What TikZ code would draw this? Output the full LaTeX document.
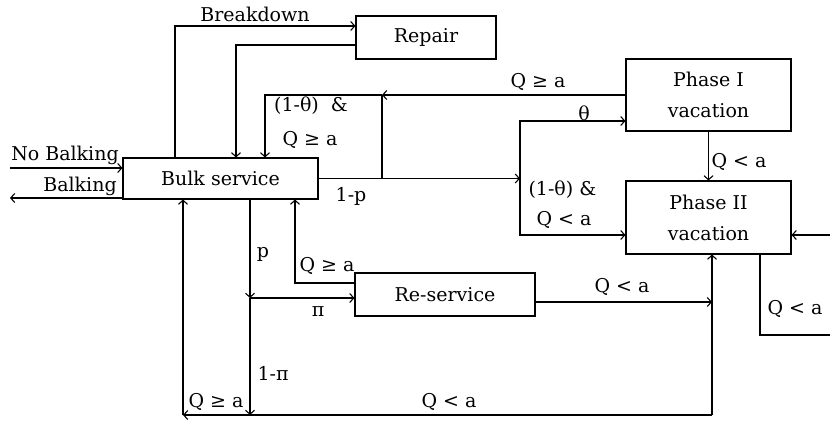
\documentclass[tikz,border=0pt]{standalone}
\usepackage{fontspec}
\setmainfont{DejaVu Serif}
\usetikzlibrary{arrows.meta}
\tikzset{
  blk/.style={draw,inner sep=0pt,align=center},
  lbl/.style={inner sep=0pt}
}
\begin{document}
\begin{tikzpicture}[x=1pt,y=-1pt,line width=1.1pt,>={Straight Barb[length=4pt,width=9pt]},
 font=\fontsize{19}{31}\selectfont]
\useasboundingbox (0,0) rectangle (830,425);
% boxes
\node[blk,minimum width=140pt,minimum height=43pt] (repair) at (426,37.5) {Repair};
\node[blk,minimum width=195pt,minimum height=41pt] (bulk) at (220.5,178.5) {Bulk service};
\node[blk,minimum width=165pt,minimum height=72pt] (ph1) at (708.5,95) {Phase I\\vacation};
\node[blk,minimum width=165pt,minimum height=73pt] (ph2) at (708.5,217.5) {Phase II\\vacation};
\node[blk,minimum width=180pt,minimum height=43pt] (reserv) at (445,294.5) {Re-service};
% junctions
\coordinate (jA) at (382,95);
\coordinate (jB) at (382,178.5);
\coordinate (jC) at (520,178.5);
\coordinate (jD) at (250,298);
\coordinate (jE) at (250,415);
\coordinate (jG) at (712,415);
\coordinate (jH) at (183,415);
\coordinate (rin) at (830,235);
\coordinate (rout) at (830,335);
\coordinate (nbin) at (10,168);
\coordinate (bout) at (10,198);
% connectors
\draw[->] (nbin) -- (bulk.west |- nbin);
\draw[->] (bulk.west |- bout) -- (bout);
\draw[->] (bulk.north -| 175,0) |- (repair.west |- 0,26);
\draw[->] (repair.west |- 0,45) -| (bulk.north -| 236,0);
\draw[->] (ph1.west) -- (jA);
\draw[->] (jA) -| (bulk.north -| 265,0);
\draw (jA) -- (jB);
\draw[->] (bulk.east) -- (jC);
\draw[->] (jC) |- (ph1.west |- 0,121);
\draw[->] (jC) |- (ph2.west |- 0,235);
\draw[->] (ph1.south) -- (ph2.north);
\draw[->] (rin) -- (ph2.east |- rin);
\draw (ph2.south -| 760,0) |- (rout);
\draw[->] (bulk.south -| jD) -- (jD);
\draw[->] (jD) -- (reserv.west |- jD);
\draw[->] (jD) -- (jE);
\draw[->] (reserv.west |- 0,283) -| (bulk.south -| 295,0);
\draw[->] (reserv.east |- 0,302) -- (jG |- 0,302);
\draw[->] (jG) -- (ph2.south -| jG);
\draw[->] (jG) -- (jH);
\draw[->] (jH) -- (bulk.south -| jH);
% labels
\node[lbl] (tbrk) at (255,14) {Breakdown};
\node[lbl] (tnb) at (65,155) {No Balking};
\node[lbl] (tb) at (80,186) {Balking};
\node[lbl] (tq1) at (311,106) {(1-θ)\ \ \&};
\node[lbl] (tq2) at (310,140) {Q ≥ a};
\node[lbl] (tq3) at (538,82) {Q ≥ a};
\node[lbl] (tth) at (584,113) {θ};
\node[lbl] (tp1) at (351,196) {1-p};
\node[lbl,anchor=west] (tq4) at (528,190) {(1-θ) \&};
\node[lbl,anchor=west] (tq5) at (536,220) {Q < a};
\node[lbl] (tq6) at (739,162) {Q < a};
\node[lbl] (tq7) at (795,309) {Q < a};
\node[lbl] (tp) at (263,254) {p};
\node[lbl] (tq8) at (327,266) {Q ≥ a};
\node[lbl] (tpi) at (318,312) {π};
\node[lbl] (tpi2) at (273,373) {1-π};
\node[lbl] (tq9) at (622,287) {Q < a};
\node[lbl] (tq10) at (216,402) {Q ≥ a};
\node[lbl] (tq11) at (449,402) {Q < a};
\end{tikzpicture}
\end{document}
